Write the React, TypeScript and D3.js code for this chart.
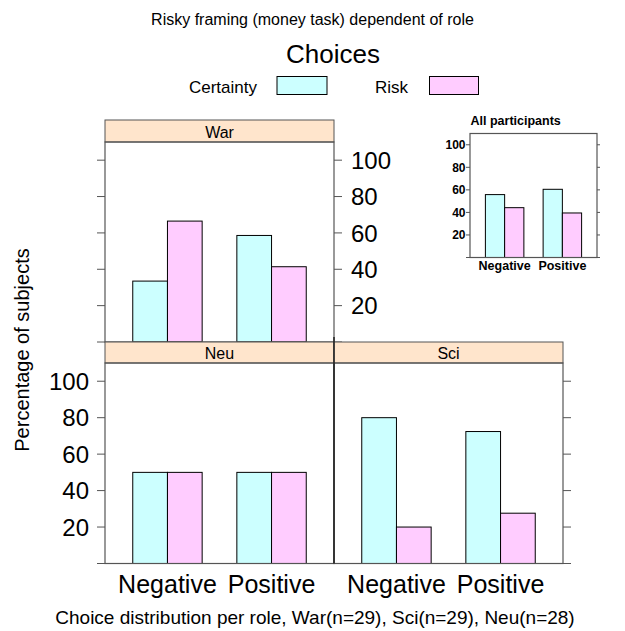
import React from "react";
import * as d3 from "d3";

const framings = ["Negative", "Positive"];
const choices = ["Certainty", "Risk"];
const roleNames = ["War", "Neu", "Sci"];
const warCertainty = [33.5, 58.6];
const warRisk = [66.5, 41.4];
const neuCertainty = [50, 50];
const neuRisk = [50, 50];
const sciCertainty = [80, 72.4];
const sciRisk = [20, 27.6];
const allCertainty = [55.8, 60.5];
const allRisk = [44.2, 39.5];
const yTicks = [0, 20, 40, 60, 80, 100];
const title = "Risky framing (money task) dependent of role";
const legendTitle = "Choices";
const xLabel = "Choice distribution per role, War(n=29), Sci(n=29), Neu(n=28)";
const yLabel = "Percentage of subjects";
const insetTitle = "All participants";

const fills = ["#CCFFFF", "#FFCCFF"];
const stripFill = "#FFE5CC";
const FONT = "'Liberation Sans', Arial, Helvetica, sans-serif";

type Bars = { cert: number[]; risk: number[] };

function Bars({ x0, x1, top, bottom, data }: { x0: number; x1: number; top: number; bottom: number; data: Bars }) {
  const x = d3.scaleLinear().domain([0.4, 2.6]).range([x0, x1]);
  const y = d3.scaleLinear().domain([0, 110]).range([bottom, top]);
  const groupW = (x(2) - x(1)) * (2 / 3);
  const inner = d3.scaleBand<string>().domain(choices).range([-groupW / 2, groupW / 2]).padding(0);
  const series = [data.cert, data.risk];
  return (
    <g>
      {framings.map((f, i) =>
        choices.map((c, j) => {
          const v = series[j][i];
          const bx = x(i + 1) + (inner(c) as number);
          return (
            <rect
              key={f + c}
              x={bx}
              y={y(v)}
              width={inner.bandwidth()}
              height={y(0) - y(v)}
              fill={fills[j]}
              stroke="#000"
              strokeWidth={1}
            />
          );
        })
      )}
    </g>
  );
}

export default function App() {
  const W = 625, H = 631;
  const xL = 105, xM = 334, xR = 563;
  const warStripTop = 120, warTop = 142, warBottom = 342;
  const botStripTop = 342, botTop = 363, botBottom = 563.5;
  const yWar = d3.scaleLinear().domain([0, 110]).range([warBottom, warTop]);
  const yBot = d3.scaleLinear().domain([0, 110]).range([botBottom, botTop]);
  const xNeu = d3.scaleLinear().domain([0.4, 2.6]).range([xL, xM]);
  const xSci = d3.scaleLinear().domain([0.4, 2.6]).range([xM, xR]);

  // inset
  const iL = 470, iR = 597, iTop = 133.5, iBottom = 257.5;
  const yIn = d3.scaleLinear().domain([0, 110]).range([iBottom, iTop]);
  const xIn = d3.scaleLinear().domain([0.4, 2.6]).range([iL, iR]);

  const border = "#555";
  const tickLen = 8;

  return (
    <svg width={W} height={H} style={{ position: "absolute", left: 0, top: 0, background: "#fff" }} fontFamily={FONT}>
      <rect x={0} y={0} width={W} height={H} fill="#fff" />
      <text x={312.5} y={25} fontSize={16} textAnchor="middle">{title}</text>

      {/* legend */}
      <text x={333} y={63} fontSize={26} textAnchor="middle">{legendTitle}</text>
      <text x={257} y={93} fontSize={17} textAnchor="end">{choices[0]}</text>
      <rect x={277} y={76.5} width={50} height={18} fill={fills[0]} stroke="#000" />
      <text x={408} y={93} fontSize={17} textAnchor="end">{choices[1]}</text>
      <rect x={429.5} y={76.5} width={49} height={18} fill={fills[1]} stroke="#000" />

      {/* War panel */}
      <rect x={xL} y={warStripTop} width={xM - xL} height={warTop - warStripTop} fill={stripFill} stroke={border} />
      <text x={(xL + xM) / 2} y={warTop - 4} fontSize={16} textAnchor="middle">{roleNames[0]}</text>
      <Bars x0={xL} x1={xM} top={warTop} bottom={warBottom} data={{ cert: warCertainty, risk: warRisk }} />
      <rect x={xL} y={warTop} width={xM - xL} height={warBottom - warTop} fill="none" stroke={border} strokeWidth={1.2} />
      {yTicks.map((t) => (
        <g key={"wt" + t}>
          <line x1={xL - tickLen} x2={xL} y1={yWar(t)} y2={yWar(t)} stroke={border} />
          <line x1={xM} x2={xM + tickLen} y1={yWar(t)} y2={yWar(t)} stroke={border} />
          {t > 0 && (
            <text x={xM + 17} y={yWar(t)} dy="0.36em" fontSize={24}>{t}</text>
          )}
        </g>
      ))}

      {/* Neu panel */}
      <rect x={xL} y={botStripTop} width={xM - xL} height={botTop - botStripTop} fill={stripFill} stroke={border} />
      <text x={(xL + xM) / 2} y={botTop - 4} fontSize={16} textAnchor="middle">{roleNames[1]}</text>
      <Bars x0={xL} x1={xM} top={botTop} bottom={botBottom} data={{ cert: neuCertainty, risk: neuRisk }} />
      <rect x={xL} y={botTop} width={xM - xL} height={botBottom - botTop} fill="none" stroke={border} strokeWidth={1.2} />
      {yTicks.map((t) => (
        <g key={"nt" + t}>
          <line x1={xL - tickLen} x2={xL} y1={yBot(t)} y2={yBot(t)} stroke={border} />
          {t > 0 && (
            <text x={89} y={yBot(t)} dy="0.36em" fontSize={24} textAnchor="end">{t}</text>
          )}
        </g>
      ))}

      {/* Sci panel */}
      <rect x={xM} y={botStripTop} width={xR - xM} height={botTop - botStripTop} fill={stripFill} stroke={border} />
      <text x={(xM + xR) / 2} y={botTop - 4} fontSize={16} textAnchor="middle">{roleNames[2]}</text>
      <Bars x0={xM} x1={xR} top={botTop} bottom={botBottom} data={{ cert: sciCertainty, risk: sciRisk }} />
      <rect x={xM} y={botTop} width={xR - xM} height={botBottom - botTop} fill="none" stroke={border} strokeWidth={1.2} />
      <line x1={xM} x2={xM} y1={warBottom - 5} y2={botBottom} stroke="#222" strokeWidth={1.5} />
      {yTicks.map((t) => (
        <line key={"st" + t} x1={xR} x2={xR + tickLen} y1={yBot(t)} y2={yBot(t)} stroke={border} />
      ))}

      {/* x tick labels */}
      {framings.map((f, i) => (
        <g key={"xl" + f}>
          <text x={xNeu(i + 1)} y={593} fontSize={25} textAnchor="middle">{f}</text>
          <text x={xSci(i + 1)} y={593} fontSize={25} textAnchor="middle">{f}</text>
        </g>
      ))}

      <text x={315} y={624} fontSize={19} textAnchor="middle">{xLabel}</text>
      <text transform={`translate(29,${350}) rotate(-90)`} fontSize={20} textAnchor="middle">{yLabel}</text>

      {/* inset */}
      <text x={470.5} y={125} fontSize={12.5} fontWeight="bold">{insetTitle}</text>
      <Bars x0={iL} x1={iR} top={iTop} bottom={iBottom} data={{ cert: allCertainty, risk: allRisk }} />
      <rect x={iL} y={iTop} width={iR - iL} height={iBottom - iTop} fill="none" stroke={border} strokeWidth={1.2} />
      {yTicks.map((t) => (
        <g key={"it" + t}>
          <line x1={iL - 4} x2={iL} y1={yIn(t)} y2={yIn(t)} stroke={border} />
          <line x1={iR} x2={iR + 3} y1={yIn(t)} y2={yIn(t)} stroke={border} />
          {t > 0 && (
            <text x={465.5} y={yIn(t)} dy="0.36em" fontSize={12} fontWeight="bold" textAnchor="end">{t}</text>
          )}
        </g>
      ))}
      {framings.map((f, i) => (
        <text key={"ixl" + f} x={xIn(i + 1)} y={270} fontSize={12.5} fontWeight="bold" textAnchor="middle">{f}</text>
      ))}
    </svg>
  );
}
